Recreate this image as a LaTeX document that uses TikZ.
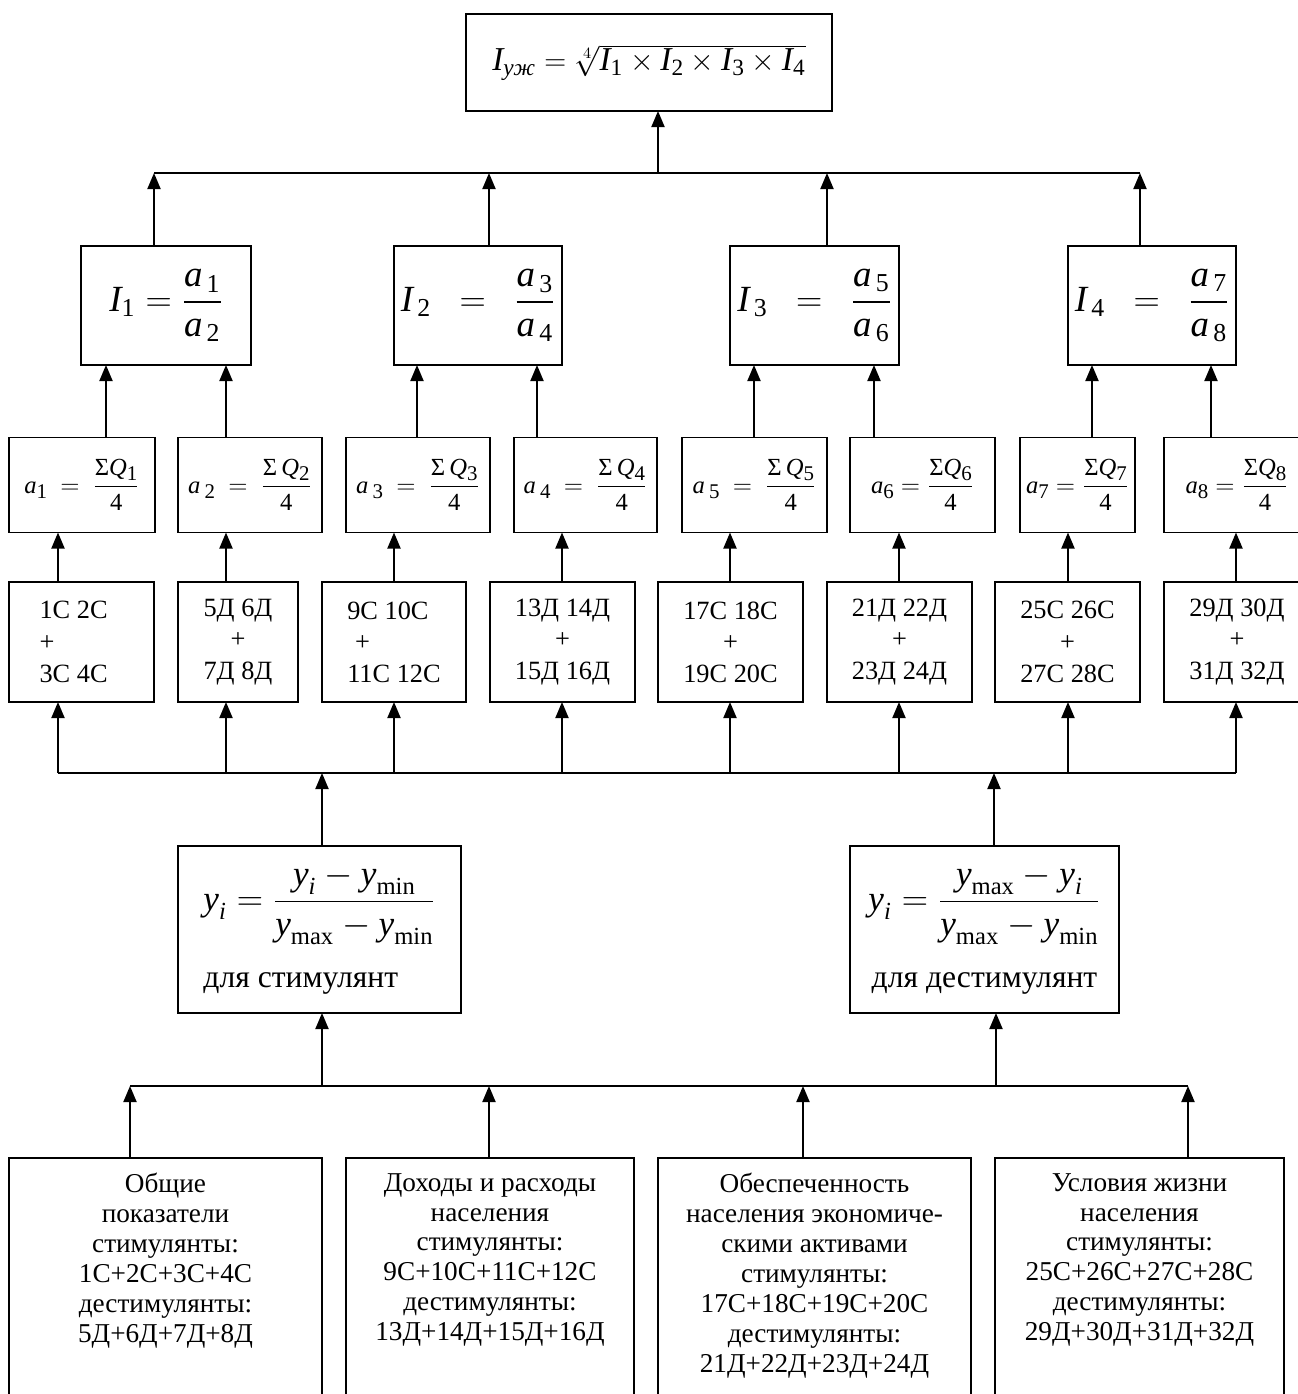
\documentclass[tikz,border=0pt]{standalone}
\usepackage{amsmath}
\usepackage{fontspec}
\setmainfont{Liberation Serif}
\usetikzlibrary{arrows.meta}
\newcommand\mi[1]{\textit{#1}}
\newcommand\tn[1]{\textup{#1}}
\newcommand\lo[1]{\raisebox{-0.45ex}{\scalebox{0.85}{#1}}}
\begin{document}
\begin{tikzpicture}[x=0.02cm,y=-0.02cm,
  bx/.style 2 args={draw, line width=1.1pt, minimum width=#1*0.02cm, minimum height=#2*0.02cm, inner sep=0pt, outer sep=0pt},
  arr/.style={line width=1.1pt, -{Triangle[length=0.32cm,width=0.26cm]}},
  ln/.style={line width=1.1pt},
  fI/.style={font=\fontsize{21}{24}\selectfont},
  fa/.style={font=\fontsize{14}{16}\selectfont},
  fc/.style={font=\fontsize{15}{18}\selectfont, align=center},
  fb/.style={font=\fontsize{15.5}{17}\selectfont, align=center, anchor=north, inner sep=0pt}]
\fill[white] (0,0) rectangle (1298,1394);
\useasboundingbox (0,0) rectangle (1298,1394);
\clip (0,0) rectangle (1298,1394);

% top
\node[bx={366}{97}, font=\fontsize{19}{22}\selectfont] (T) at (649,62.5)
  {$\mi{I}_{\mi{уж}} = \sqrt[4]{\mi{I}_{\tn{1}} \times \mi{I}_{\tn{2}} \times \mi{I}_{\tn{3}} \times \mi{I}_{\tn{4}}}$};
\coordinate (tb1) at (154,173);
\coordinate (tb2) at (489,173);
\coordinate (tb3) at (827,173);
\coordinate (tb4) at (1140,173);
\coordinate (tbm) at (658,173);
\draw[ln] (tb1) -- (tb4);
\draw[arr] (tbm) -- (tbm |- T.south);

% I boxes
\node[bx={170}{119}, fI] (I1) at (166,305.5) {$\mi{I}_{\tn{1}} = \dfrac{\mi{a}_{\,\tn{1}}}{\mi{a}_{\,\tn{2}}}$};
\node[bx={168}{119}, fI] (I2) at (478,305.5) {$\mi{I}_{\,\tn{2}}\ \ =\ \ \dfrac{\mi{a}_{\,\tn{3}}}{\mi{a}_{\,\tn{4}}}$};
\node[bx={169}{119}, fI] (I3) at (814.5,305.5) {$\mi{I}_{\,\tn{3}}\ \ =\ \ \dfrac{\mi{a}_{\,\tn{5}}}{\mi{a}_{\,\tn{6}}}$};
\node[bx={168}{119}, fI] (I4) at (1152,305.5) {$\mi{I}_{\,\tn{4}}\ \ =\ \ \dfrac{\mi{a}_{\,\tn{7}}}{\mi{a}_{\,\tn{8}}}$};
\draw[arr] (I1.north -| tb1) -- (tb1);
\draw[arr] (I2.north -| tb2) -- (tb2);
\draw[arr] (I3.north -| tb3) -- (tb3);
\draw[arr] (I4.north -| tb4) -- (tb4);

% a boxes
\node[bx={146}{95}, fa] (a1) at (82,485) {$\mi{a}\lo{1}\ =\ \dfrac{\text{Σ}\mi{Q}\lo{1}}{\tn{4}}$};
\node[bx={144}{95}, fa] (a2) at (250,485) {$\mi{a}\,\lo{2}\ =\ \dfrac{\text{Σ}\,\mi{Q}\lo{2}}{\tn{4}}$};
\node[bx={144}{95}, fa] (a3) at (418,485) {$\mi{a}\,\lo{3}\ =\ \dfrac{\text{Σ}\,\mi{Q}\lo{3}}{\tn{4}}$};
\node[bx={143}{95}, fa] (a4) at (585.5,485) {$\mi{a}\,\lo{4}\ =\ \dfrac{\text{Σ}\,\mi{Q}\lo{4}}{\tn{4}}$};
\node[bx={145}{95}, fa] (a5) at (754.5,485) {$\mi{a}\,\lo{5}\ =\ \dfrac{\text{Σ}\,\mi{Q}\lo{5}}{\tn{4}}$};
\node[bx={145}{95}, fa] (a6) at (922.5,485) {$\mi{a}\lo{6} = \dfrac{\text{Σ}\mi{Q}\lo{6}}{\tn{4}}$};
\node[bx={115}{95}, fa] (a7) at (1077.5,485) {$\mi{a}\lo{7} = \dfrac{\text{Σ}\mi{Q}\lo{7}}{\tn{4}}$};
\node[bx={146}{95}, fa] (a8) at (1237,485) {$\mi{a}\lo{8} = \dfrac{\text{Σ}\mi{Q}\lo{8}}{\tn{4}}$};

\coordinate (u1) at (106,0);
\coordinate (u2) at (226,0);
\coordinate (u3) at (417,0);
\coordinate (u4) at (537,0);
\coordinate (u5) at (754,0);
\coordinate (u6) at (874,0);
\coordinate (u7) at (1092,0);
\coordinate (u8) at (1211,0);
\draw[arr] (a1.north -| u1) -- (u1 |- I1.south);
\draw[arr] (a2.north -| u2) -- (u2 |- I1.south);
\draw[arr] (a3.north -| u3) -- (u3 |- I2.south);
\draw[arr] (a4.north -| u4) -- (u4 |- I2.south);
\draw[arr] (a5.north -| u5) -- (u5 |- I3.south);
\draw[arr] (a6.north -| u6) -- (u6 |- I3.south);
\draw[arr] (a7.north -| u7) -- (u7 |- I4.south);
\draw[arr] (a8.north -| u8) -- (u8 |- I4.south);

% code boxes
\node[bx={145}{120}, fc, align=left] (c1) at (81.5,642) {\hspace*{-0.6em}1С 2С\\\hspace*{-0.6em}+\\\hspace*{-0.6em}3С 4С};
\node[bx={120}{120}, fc] (c2) at (238,642) {5Д 6Д\\+\\7Д 8Д};
\node[bx={144}{120}, fc, align=left] (c3) at (394,642) {9С 10С\\\hspace{0.3em}+\\11С 12С};
\node[bx={145}{120}, fc] (c4) at (562.5,642) {13Д 14Д\\+\\15Д 16Д};
\node[bx={145}{120}, fc] (c5) at (730.5,642) {17С 18С\\+\\19С 20С};
\node[bx={145}{120}, fc] (c6) at (899.5,642) {21Д 22Д\\+\\23Д 24Д};
\node[bx={145}{120}, fc] (c7) at (1067.5,642) {25С 26С\\+\\27С 28С};
\node[bx={146}{120}, fc] (c8) at (1237,642) {29Д 30Д\\+\\31Д 32Д};

\coordinate (m1) at (58,773);
\coordinate (m2) at (226,773);
\coordinate (m3) at (394,773);
\coordinate (m4) at (562,773);
\coordinate (m5) at (730,773);
\coordinate (m6) at (899,773);
\coordinate (m7) at (1068,773);
\coordinate (m8) at (1236,773);
\coordinate (ms) at (322,773);
\coordinate (md) at (994,773);
\draw[ln] (m1) -- (m8);
\draw[arr] (c1.north -| m1) -- (m1 |- a1.south);
\draw[arr] (c2.north -| m2) -- (m2 |- a2.south);
\draw[arr] (c3.north -| m3) -- (m3 |- a3.south);
\draw[arr] (c4.north -| m4) -- (m4 |- a4.south);
\draw[arr] (c5.north -| m5) -- (m5 |- a5.south);
\draw[arr] (c6.north -| m6) -- (m6 |- a6.south);
\draw[arr] (c7.north -| m7) -- (m7 |- a7.south);
\draw[arr] (c8.north -| m8) -- (m8 |- a8.south);
\draw[arr] (m1) -- (m1 |- c1.south);
\draw[arr] (m2) -- (m2 |- c2.south);
\draw[arr] (m3) -- (m3 |- c3.south);
\draw[arr] (m4) -- (m4 |- c4.south);
\draw[arr] (m5) -- (m5 |- c5.south);
\draw[arr] (m6) -- (m6 |- c6.south);
\draw[arr] (m7) -- (m7 |- c7.south);
\draw[arr] (m8) -- (m8 |- c8.south);

% normalisation boxes
\node[bx={283}{167}, align=left] (S) at (319.5,929.5)
  {{\fontsize{20}{22}\selectfont$\mi{y}_{\mi{i}} = \dfrac{\mi{y}_{\mi{i}} - \mi{y}_{\tn{min}}}{\mi{y}_{\tn{max}} - \mi{y}_{\tn{min}}}$}\\[15pt]
   {\fontsize{18}{20}\selectfont для стимулянт}};
\node[bx={269}{167}, align=center] (D) at (984.5,929.5)
  {{\fontsize{20}{22}\selectfont$\mi{y}_{\mi{i}} = \dfrac{\mi{y}_{\tn{max}} - \mi{y}_{\mi{i}}}{\mi{y}_{\tn{max}} - \mi{y}_{\tn{min}}}$}\\[15pt]
   {\fontsize{18}{20}\selectfont для дестимулянт}};
\draw[arr] (S.north -| ms) -- (ms);
\draw[arr] (D.north -| md) -- (md);

% bottom bus
\coordinate (n1) at (130,1086);
\coordinate (n2) at (489,1086);
\coordinate (n3) at (803,1086);
\coordinate (n4) at (1188,1086);
\coordinate (ns) at (322,1086);
\coordinate (nd) at (996,1086);
\draw[ln] (n1) -- (n4);
\draw[arr] (ns) -- (ns |- S.south);
\draw[arr] (nd) -- (nd |- D.south);

% source boxes
\node[bx={313}{262}] (B1) at (165.5,1289) {};
\node[bx={288}{262}] (B2) at (490,1289) {};
\node[bx={313}{262}] (B3) at (814.5,1289) {};
\node[bx={289}{262}] (B4) at (1139.5,1289) {};
\node[fb] (B1t) at ([yshift=-0.3cm]B1.north) {Общие\\показатели\\стимулянты:\\1С+2С+3С+4С\\дестимулянты:\\5Д+6Д+7Д+8Д};
\node[fb] (B2t) at ([yshift=-0.3cm]B2.north) {Доходы и расходы\\населения\\стимулянты:\\9С+10С+11С+12С\\дестимулянты:\\13Д+14Д+15Д+16Д};
\node[fb] (B3t) at ([yshift=-0.3cm]B3.north) {Обеспеченность\\населения экономиче-\\скими активами\\стимулянты:\\17С+18С+19С+20С\\дестимулянты:\\21Д+22Д+23Д+24Д};
\node[fb] (B4t) at ([yshift=-0.3cm]B4.north) {Условия жизни\\населения\\стимулянты:\\25С+26С+27С+28С\\дестимулянты:\\29Д+30Д+31Д+32Д};
\draw[arr] (B1.north -| n1) -- (n1);
\draw[arr] (B2.north -| n2) -- (n2);
\draw[arr] (B3.north -| n3) -- (n3);
\draw[arr] (B4.north -| n4) -- (n4);
\end{tikzpicture}
\end{document}
